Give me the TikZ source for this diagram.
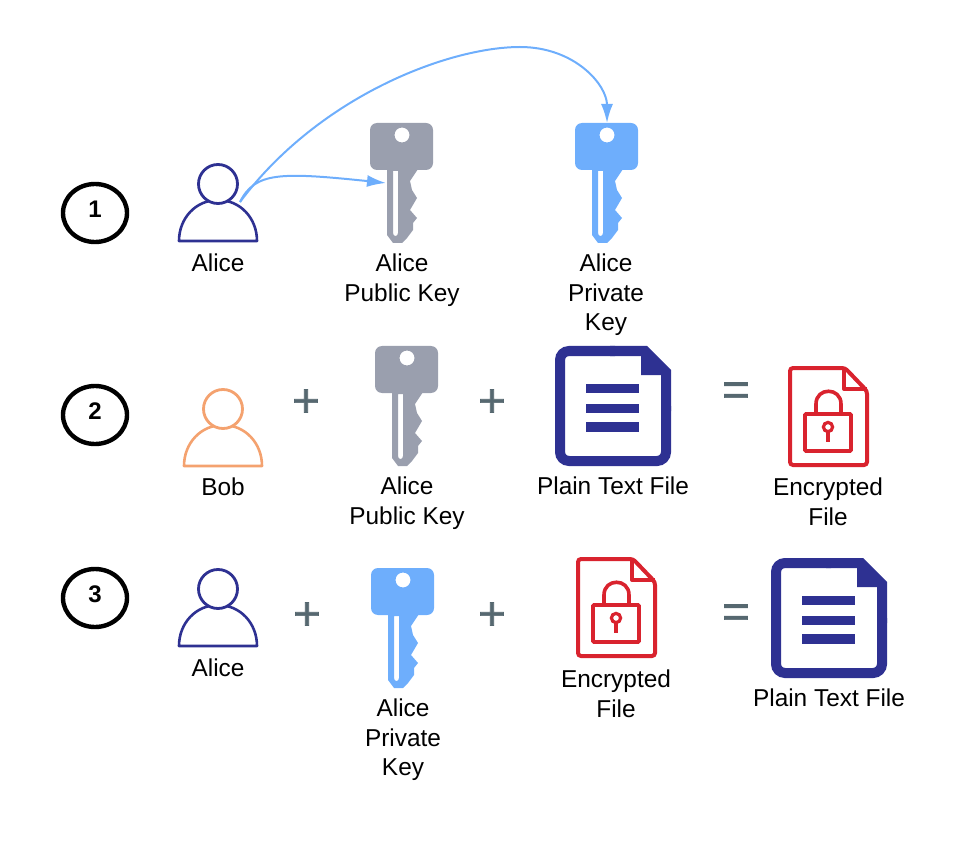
\documentclass[tikz,border=0pt]{standalone}
\usepackage{fontspec}
\usepackage{xcolor}
\usetikzlibrary{arrows.meta,shapes.geometric}
\setmainfont{Liberation Sans}
\newfontface\heavyfont[FakeBold=1.5]{Liberation Sans}

\definecolor{keygray}{HTML}{9A9FAE}
\definecolor{keyblue}{HTML}{6EAEFC}
\definecolor{docnavy}{HTML}{2E3192}
\definecolor{lockred}{HTML}{D9232E}
\definecolor{bobcolor}{HTML}{F4A26F}
\definecolor{signgray}{HTML}{566870}

\tikzset{
    label/.style={align=center,anchor=north,text=black,inner sep=0pt,
        font=\fontsize{24.4}{29.5}\selectfont},
    stepmark/.style={draw=black,line width=4.4,ellipse,minimum width=64,minimum height=58,
        inner sep=0pt,text depth=8,font=\fontsize{24}{24}\selectfont\bfseries},
    sign/.style={text=signgray,inner sep=0pt,font=\heavyfont\fontsize{47}{47}\selectfont},
    link/.style={draw=keyblue,line width=2,-{Latex[length=19,width=12]}},
    pics/personicon/.style={code={
        \draw[#1,line width=2.6,line join=round,fill=white] (-39,57) .. controls (-39,34) and (-22,16) .. (0,16)
            .. controls (22,16) and (39,34) .. (39,57) -- cycle;
        \draw[#1,line width=2.8,fill=white] (0,0) circle[radius=19.5];
        \coordinate (-shoulder) at (22,18);
    }},
    pics/keyicon/.style={code={
        \fill[#1,even odd rule] [rounded corners=7] (0,0) -- (63,0) -- (63,47) -- (0,47) -- cycle
            [sharp corners] (32,12) circle[radius=7.5];
        \fill[#1,even odd rule] (17,46) -- (48,46) -- (40,58) -- (42,67) -- (47,75) -- (40,87) -- (47,95)
            -- (43,100) -- (43,107) -- (37,115) -- (32,120) -- (23,120) -- (17,112) -- cycle
            (23,48) -- (28,48) -- (28,110) .. controls (28,114) and (23,114) .. (23,110) -- cycle;
        \coordinate (-top) at (32,0);
        \coordinate (-side) at (16,60);
    }},
    pics/docicon/.style={code={
        \draw[docnavy,line width=10,rounded corners=9] (111,60) -- (111,115) -- (5,115) -- (5,5) -- (60,5);
        \draw[docnavy,line width=10] (55,5) -- (90,5) -- (111,26) -- (111,65);
        \fill[docnavy] (86,5) -- (90,5) -- (111,26) -- (111,29) -- (86,29) -- cycle;
        \fill[docnavy] (31,38) rectangle (84,47);
        \fill[docnavy] (31,58) rectangle (84,67);
        \fill[docnavy] (31,76) rectangle (84,86);
    }},
    pics/lockicon/.style={code={
        \draw[lockred,line width=4,rounded corners=3] (2,2) -- (57,2) -- (79,25) -- (79,99) -- (2,99) -- cycle;
        \draw[lockred,line width=4,line join=round] (56,2) -- (56,23) -- (79,23);
        \draw[lockred,line width=3.6,rounded corners=1] (17,48) rectangle (63,85);
        \draw[lockred,line width=3.6] (28,48) -- (28,38) .. controls (28,21) and (53,21) .. (53,38) -- (53,48);
        \draw[lockred,line width=3.2] (40,61) circle[radius=4.6];
        \draw[lockred,line width=3.6] (40,66) -- (40,76);
    }}
}

\begin{document}
\begin{tikzpicture}[x=1pt,y=-1pt]
    \useasboundingbox (0,0) rectangle (972,842);

    \node[stepmark] (stepone) at (95,213) {1};
    \node[stepmark] (steptwo) at (95,415) {2};
    \node[stepmark] (stepthree) at (95,598) {3};

    \pic (aliceone) at (218,184) {personicon=docnavy};
    \pic (pubkeyone) at (370,123) {keyicon=keygray};
    \pic (privkeyone) at (575,123) {keyicon=keyblue};
    \node[label] (alicetext) at (218,254) {Alice};
    \node[label] (pubtext) at (402,254) {Alice\\Public Key};
    \node[label] (privtext) at (606,254) {Alice\\Private\\Key};

    \draw[link] (aliceone-shoulder) .. controls (255,172) and (280,172) .. (pubkeyone-side);
    \draw[link] (aliceone-shoulder) .. controls (320,95) and (450,47) .. (520,47)
        .. controls (575,47) and (607,85) .. (privkeyone-top);

    \pic (bobtwo) at (223,409) {personicon=bobcolor};
    \node[sign] (plusa) at (306,403) {+};
    \pic (pubkeytwo) at (375,346) {keyicon=keygray};
    \node[sign] (plusb) at (492,403) {+};
    \pic (doctwo) at (555,346) {docicon};
    \node[sign] (equaltwo) at (736,394) {=};
    \pic (locktwo) at (788,366) {lockicon};
    \node[label] (bobtext) at (223,478) {Bob};
    \node[label] (pubtexttwo) at (407,477) {Alice\\Public Key};
    \node[label] (doctexttwo) at (613,477) {Plain Text File};
    \node[label] (locktexttwo) at (828,478) {Encrypted\\File};

    \pic (alicethree) at (218,589) {personicon=docnavy};
    \node[sign] (plusc) at (307,616) {+};
    \pic (privkeythree) at (371,568) {keyicon=keyblue};
    \node[sign] (plusd) at (492,616) {+};
    \pic (lockthree) at (576,557) {lockicon};
    \node[sign] (equalthree) at (736,616) {=};
    \pic (docthree) at (771,558) {docicon};
    \node[label] (alicetextthree) at (218,659) {Alice};
    \node[label] (privtextthree) at (403,699) {Alice\\Private\\Key};
    \node[label] (locktextthree) at (616,670) {Encrypted\\File};
    \node[label] (doctextthree) at (829,689) {Plain Text File};
\end{tikzpicture}
\end{document}
